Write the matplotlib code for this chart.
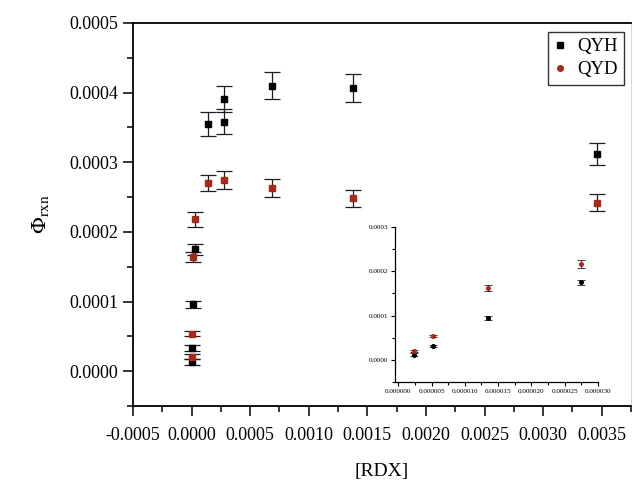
import matplotlib
matplotlib.use("Agg")
import matplotlib.pyplot as plt
from matplotlib.lines import Line2D
from matplotlib.ticker import MultipleLocator, FormatStrFormatter

plt.rcParams['font.family'] = ['Liberation Serif', 'DejaVu Serif']
plt.rcParams['mathtext.fontset'] = 'stix'

# [RDX] (M) and reaction quantum yields
rdx_qyh = [0.0000023, 0.0000052, 0.0000135, 0.0000275, 0.000136, 0.00028, 0.00028, 0.000686, 0.00138, 0.00346]
qyh = [0.000013, 0.000033, 0.000096, 0.000175, 0.000355, 0.000391, 0.000358, 0.00041, 0.000407, 0.000312]
qyh_err = [0.000004, 0.000004, 0.000005, 0.000008, 0.000017, 0.000019, 0.000018, 0.00002, 0.00002, 0.000016]

rdx_qyd = [0.0000023, 0.0000052, 0.0000135, 0.0000275, 0.000136, 0.00028, 0.000686, 0.00138, 0.00346]
qyd = [0.000021, 0.000054, 0.000164, 0.000218, 0.00027, 0.000275, 0.000263, 0.000248, 0.000242]
qyd_err = [0.000004, 0.000004, 0.000007, 0.000011, 0.000012, 0.000013, 0.000013, 0.000012, 0.000012]

# low-concentration points shown in the inset
rdx_low = [0.0000023, 0.0000052, 0.0000135, 0.0000275]
qyh_low = [0.000012, 0.000032, 0.000095, 0.000175]
qyh_low_err = [0.000003, 0.000002, 0.000004, 0.000006]
qyd_low = [0.00002, 0.000054, 0.000163, 0.000216]
qyd_low_err = [0.000003, 0.000002, 0.000007, 0.000009]

red = '#a8291a'
ecol = '#1c1c28'

fig = plt.figure(figsize=(6.34, 4.88), dpi=100)
ax = fig.add_axes([0.2098, 0.168, 0.7855, 0.7852])

ax.errorbar(rdx_qyh, qyh, yerr=qyh_err, fmt='s', color='black', ms=4.6, ecolor=ecol,
            elinewidth=0.9, capsize=6, capthick=0.9, zorder=3)
ax.errorbar(rdx_qyd, qyd, yerr=qyd_err, fmt='s', color=red, ms=4.0, ecolor=ecol,
            elinewidth=0.9, capsize=6, capthick=0.9, zorder=3)

ax.set_xlim(-0.0005, 0.00375)
ax.set_ylim(-0.00005, 0.0005)
ax.xaxis.set_major_locator(MultipleLocator(0.0005))
ax.xaxis.set_minor_locator(MultipleLocator(0.00025))
ax.yaxis.set_major_locator(MultipleLocator(0.0001))
ax.yaxis.set_minor_locator(MultipleLocator(0.00005))
ax.xaxis.set_major_formatter(FormatStrFormatter('%.4f'))
ax.yaxis.set_major_formatter(FormatStrFormatter('%.4f'))
ax.tick_params(which='major', length=7, width=1.1, labelsize=13, direction='out')
ax.tick_params(which='minor', length=4, width=1.1, direction='out')
ax.tick_params(axis='x', pad=8)
for side in ['left', 'bottom', 'top']:
    ax.spines[side].set_linewidth(1.3)
ax.spines['right'].set_color('#d8d8d8')
ax.spines['right'].set_linewidth(0.8)

ax.set_xlabel('[RDX]', fontsize=14, labelpad=14)
ax.set_ylabel(r'$\Phi_{\rm rxn}$', fontsize=16, labelpad=13)

# legend: small square for QYH, dot for QYD
handles = [Line2D([], [], ls='none', marker='s', color='black', ms=4),
           Line2D([], [], ls='none', marker='o', color=red, ms=4)]
leg = ax.legend(handles, ['QYH', 'QYD'], loc='upper right', fontsize=13.5, frameon=True,
                fancybox=False, handlelength=0.6, handletextpad=0.6, borderpad=0.35,
                labelspacing=0.3, borderaxespad=0, bbox_to_anchor=(0.986, 0.977))
leg.get_frame().set_edgecolor('black')
leg.get_frame().set_linewidth(1.0)

# inset: low [RDX] region
ins = fig.add_axes([0.623, 0.217, 0.32, 0.318])
ins.errorbar(rdx_low, qyh_low, yerr=qyh_low_err, fmt='o', color='black', ms=2.6,
             ecolor=ecol, elinewidth=0.6, capsize=3, capthick=0.6, zorder=3)
ins.errorbar(rdx_low, qyd_low, yerr=qyd_low_err, fmt='o', color=red, ms=2.6,
             ecolor=ecol, elinewidth=0.6, capsize=3, capthick=0.6, zorder=3)
ins.set_xlim(-0.0000005, 0.00003)
ins.set_ylim(-0.00005, 0.0003)
ins.xaxis.set_major_locator(MultipleLocator(0.000005))
ins.xaxis.set_minor_locator(MultipleLocator(0.0000025))
ins.yaxis.set_major_locator(MultipleLocator(0.0001))
ins.yaxis.set_minor_locator(MultipleLocator(0.00005))
ins.xaxis.set_major_formatter(FormatStrFormatter('%.6f'))
ins.yaxis.set_major_formatter(FormatStrFormatter('%.4f'))
ins.tick_params(which='major', length=3, width=0.8, labelsize=5.2, pad=2)
ins.tick_params(which='minor', length=2, width=0.8)
ins.spines['top'].set_visible(False)
ins.spines['right'].set_visible(False)
ins.spines['left'].set_linewidth(0.9)
ins.spines['bottom'].set_linewidth(0.9)

fig.savefig('out.png', dpi=100)
